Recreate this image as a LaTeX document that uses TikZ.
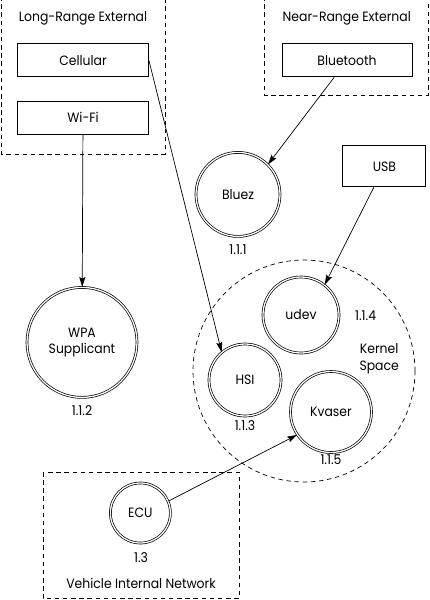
\documentclass[tikz,border=0pt]{standalone}
\usepackage{fontspec}
\setmainfont[FakeStretch=0.92]{Poppins}
\usetikzlibrary{arrows.meta,positioning}

\begin{document}
\begin{tikzpicture}[
box/.style={draw,line width=0.6pt,minimum width=32.75mm,minimum height=8.25mm,inner sep=2pt},
proc/.style={circle,draw,line width=0.5pt,double,double distance=0.9pt,align=center,inner sep=1pt},
zone/.style={draw,line width=0.6pt,dash pattern=on 3.2pt off 2.6pt},
tag/.style={anchor=base,inner sep=0pt},
flow/.style={-{Stealth[length=2.5mm,width=1.5mm,inset=0.4mm]},line width=0.5pt},
every node/.style={font=\fontsize{9.6}{11}\selectfont}]
\clip (0,0) rectangle (10.75,-15);
% trust zones
\draw[zone] (0.03,0.3) rectangle (4.125,-3.85);
\draw[zone] (6.6,0.3) rectangle (10.72,-2.375);
\draw[zone] (1.075,-11.8) rectangle (5.975,-14.97);
\draw[zone,line width=0.5pt] (7.6,-9.275) circle (2.775);
\node[tag] (longlbl) at (2.075,-0.54) {Long-Range External};
\node[tag] (nearlbl) at (8.67,-0.54) {Near-Range External};
\node[tag] (vehlbl) at (3.525,-14.7) {Vehicle Internal Network};
\node[tag] (kernlbl) at (9.48,-8.83) {Kernel};
\node[tag] (spacelbl) at (9.48,-9.25) {Space};
% interfaces
\node[box] (cellular) at (2.075,-1.51) {Cellular};
\node[box] (wifi) at (2.075,-2.94) {Wi-Fi};
\node[box,minimum width=32.5mm] (bluetooth) at (8.675,-1.51) {Bluetooth};
\node[box,minimum width=20.75mm,minimum height=10.25mm] (usb) at (9.61,-4.16) {USB};
% processes
\node[proc,minimum size=21mm] (bluez) at (5.95,-4.86) {Bluez};
\node[proc,minimum size=27.5mm] (wpa) at (2.05,-8.56) {WPA\\Supplicant};
\node[proc,minimum size=19mm] (udev) at (7.525,-7.875) {udev};
\node[proc,minimum size=18mm] (hsi) at (6.125,-9.5) {HSI};
\node[proc,minimum size=20.25mm] (kvaser) at (8.275,-10.3) {Kvaser};
\node[proc,minimum size=15mm] (ecu) at (3.51,-12.825) {ECU};
\node[tag] (n111) at (5.95,-6.35) {1.1.1};
\node[tag] (n112) at (2.05,-10.375) {1.1.2};
\node[tag] (n113) at (6.125,-10.75) {1.1.3};
\node[tag] (n114) at (9.14,-8.0) {1.1.4};
\node[tag] (n115) at (8.275,-11.6) {1.1.5};
\node[tag] (n13) at (3.525,-14.05) {1.3};
% data flows
\draw[flow] (cellular.east) -- (hsi.130);
\draw[flow] (wifi) -- (wpa);
\draw[flow] (bluetooth) -- (bluez.45);
\draw[flow] (usb) -- (udev.52);
\draw[flow] (ecu.23) -- (kvaser.214);
\end{tikzpicture}
\end{document}
